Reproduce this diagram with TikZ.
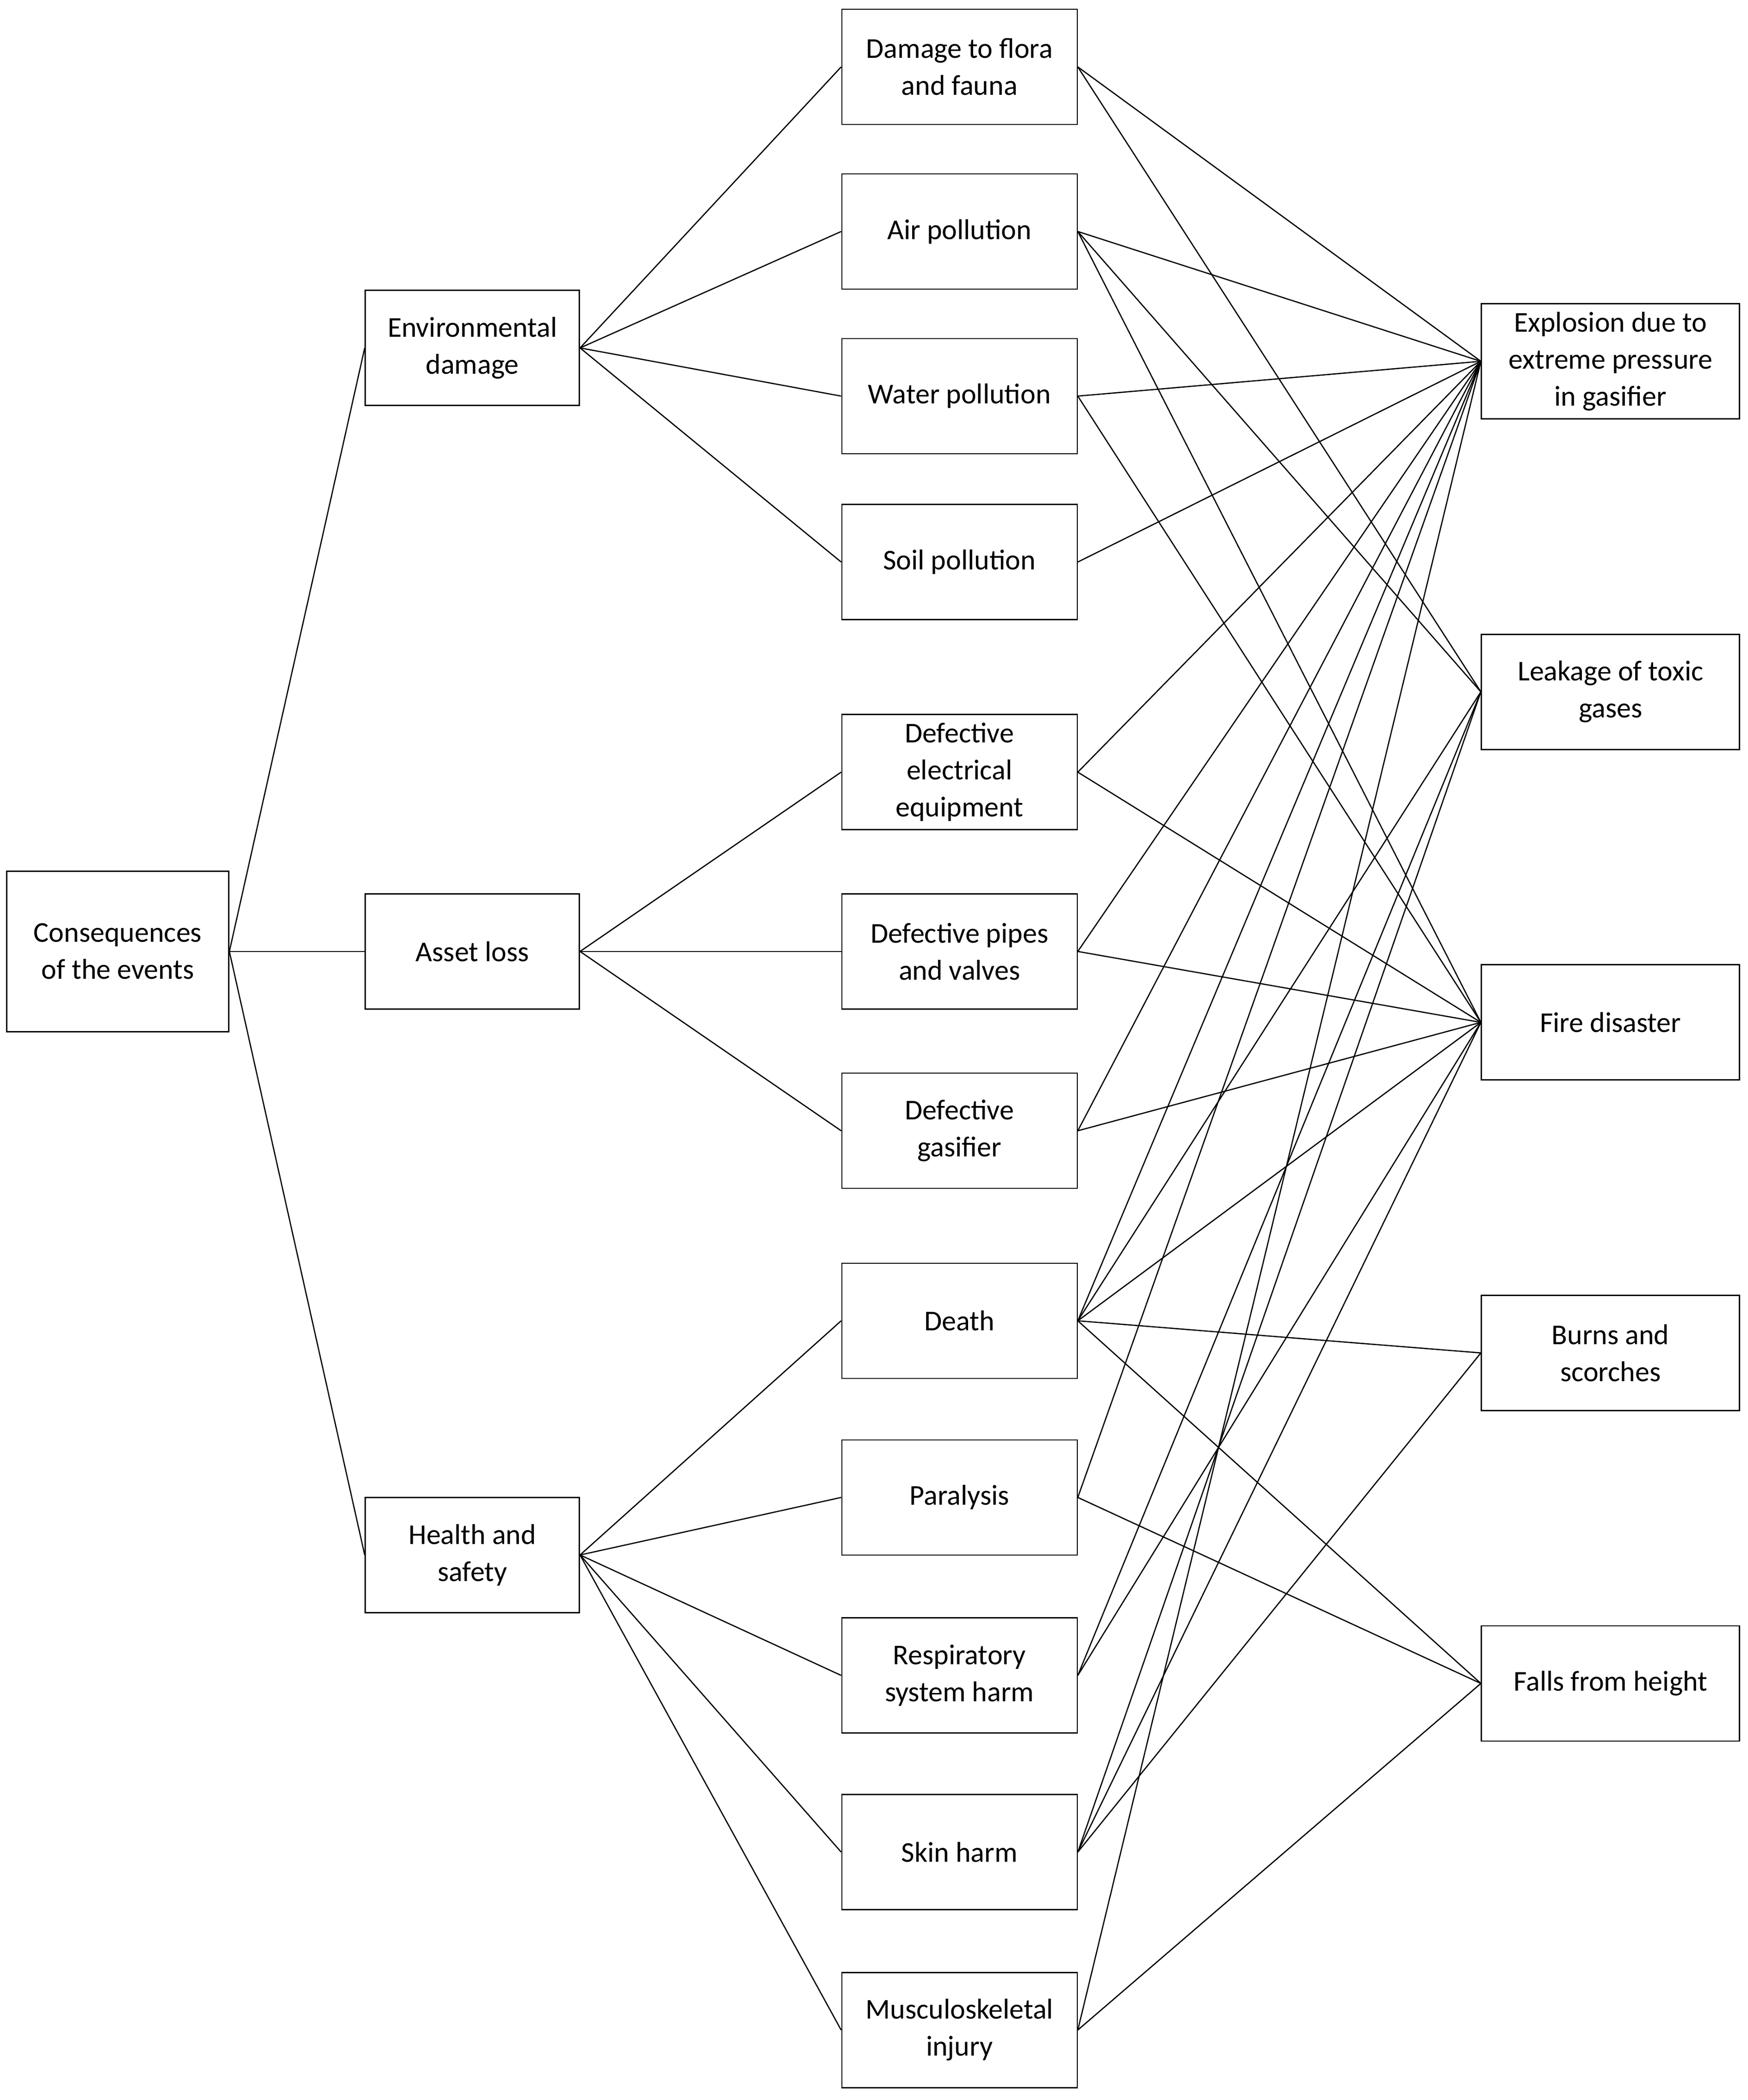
\documentclass[tikz,border=0pt]{standalone}
\usepackage{fontspec}
\setmainfont{Carlito}
\begin{document}
\begin{tikzpicture}[x=2.893pt,y=-2.893pt,line width=2.6pt,
  box/.style={draw,line width=2.6pt,align=center,inner sep=0pt,font=\fontsize{62}{80}\selectfont},
  lv1/.style={box,minimum width=480pt,minimum height=347pt},
  lv2/.style={box,minimum width=463pt,minimum height=249pt},
  mid/.style={box,minimum width=509pt,minimum height=249pt},
  rt/.style={box,minimum width=558pt,minimum height=249pt}]
\useasboundingbox (0,0) rectangle (1306,1569.3);
\node[lv1] (c) at (88,711) {Consequences\\of the events};
\node[lv2] (env) at (353,260) {Environmental\\damage};
\node[lv2] (ast) at (353,711) {Asset loss};
\node[lv2] (hs) at (353,1162) {Health and\\safety};
\node[mid] (flo) at (717,50) {Damage to flora\\and fauna};
\node[mid] (air) at (717,173) {Air pollution};
\node[mid] (wat) at (717,296) {Water pollution};
\node[mid] (soi) at (717,420) {Soil pollution};
\node[mid] (ele) at (717,577) {Defective\\electrical\\equipment};
\node[mid] (pip) at (717,711) {Defective pipes\\and valves};
\node[mid] (gas) at (717,845) {Defective\\gasifier};
\node[mid] (dea) at (717,987) {Death};
\node[mid] (par) at (717,1119) {Paralysis};
\node[mid] (res) at (717,1252) {Respiratory\\system harm};
\node[mid] (ski) at (717,1384) {Skin harm};
\node[mid] (mus) at (717,1517) {Musculoskeletal\\injury};
\node[rt] (exp) at (1203.5,270) {Explosion due to\\extreme pressure\\in gasifier};
\node[rt] (lea) at (1203.5,517) {Leakage of toxic\\gases};
\node[rt] (fir) at (1203.5,764) {Fire disaster};
\node[rt] (bur) at (1203.5,1011) {Burns and\\scorches};
\node[rt] (fal) at (1203.5,1258) {Falls from height};
\foreach \a in {env,ast,hs} \draw (c.east) -- (\a.west);
\foreach \a in {flo,air,wat,soi} \draw (env.east) -- (\a.west);
\foreach \a in {ele,pip,gas} \draw (ast.east) -- (\a.west);
\foreach \a in {dea,par,res,ski,mus} \draw (hs.east) -- (\a.west);
\foreach \a in {flo,air,wat,soi,ele,pip,gas,dea,par,mus} \draw (\a.east) -- (exp.west);
\foreach \a in {flo,air,dea,res,ski} \draw (\a.east) -- (lea.west);
\foreach \a in {air,wat,ele,pip,gas,dea,res,ski} \draw (\a.east) -- (fir.west);
\foreach \a in {dea,ski} \draw (\a.east) -- (bur.west);
\foreach \a in {dea,par,mus} \draw (\a.east) -- (fal.west);
\end{tikzpicture}
\end{document}
